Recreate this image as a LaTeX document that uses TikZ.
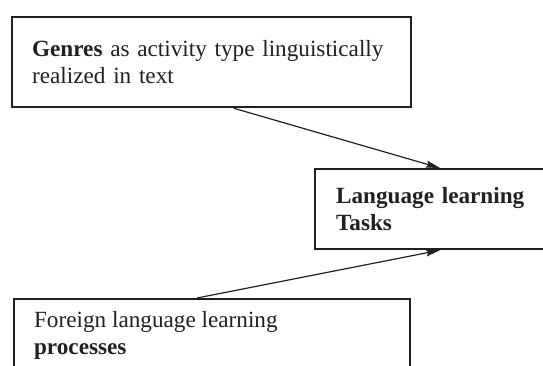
\documentclass[tikz,border=0pt]{standalone}
\usepackage{fontspec}
\setmainfont{Liberation Serif}
\usetikzlibrary{arrows.meta}
\definecolor{ink}{RGB}{35,31,32}
\begin{document}
\begin{tikzpicture}[x=1pt,y=-1pt,
  every node/.style={font=\fontsize{23.2}{27.5}\selectfont,text=ink},
  frame/.style={draw=ink,line width=2.2pt,anchor=north west,align=left,inner xsep=20pt},
  link/.style={draw=ink,line width=1.2pt,-{Stealth[length=14pt,width=7pt,inset=2pt]}}]
\useasboundingbox (0,0) rectangle (543,366);
\node[frame,minimum width=399pt,minimum height=90pt,text width=359pt] (genres) at (11,16)
  {\textbf{Genres} as activity type linguistically\\realized in text};
\node[frame,minimum width=234pt,minimum height=80pt,text width=192pt,inner xsep=21pt] (tasks) at (314,168)
  {\textbf{Language learning}\\\textbf{Tasks}};
\node[frame,minimum width=396pt,inner ysep=12pt] (fll) at (13,298)
  {\parbox[t][90pt][t]{356pt}{Foreign language learning\\\textbf{processes}}};
\draw[link] ([xshift=22pt]genres.south) -- ([xshift=126pt]tasks.north west);
\draw[link] ([xshift=184pt]fll.north west) -- ([xshift=126pt]tasks.south west);
\end{tikzpicture}
\end{document}
